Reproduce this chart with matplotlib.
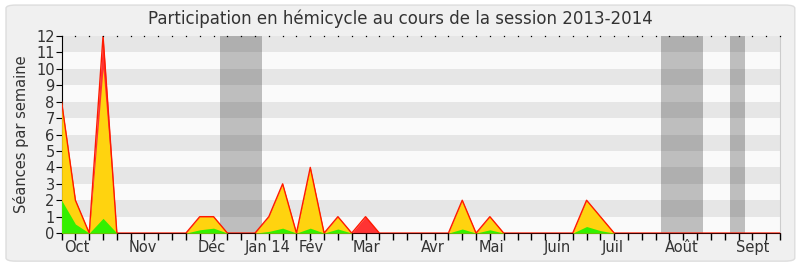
import numpy as np
import matplotlib
matplotlib.use('Agg')
import matplotlib.pyplot as plt
from matplotlib.patches import FancyBboxPatch

# weekly data, session 2013-2014 (53 weeks)
total = [8, 2, 0, 12, 0, 0, 0, 0, 0, 0, 1, 1, 0, 0, 0, 1, 3, 0, 4, 0,
         1, 0, 1, 0, 0, 0, 0, 0, 0, 2, 0, 1, 0, 0, 0, 0, 0, 0, 2, 1,
         0, 0, 0, 0, 0, 0, 0, 0, 0, 0, 0, 0, 0]
jaune = [8, 2, 0, 10, 0, 0, 0, 0, 0, 0, 1, 1, 0, 0, 0, 1, 3, 0, 4, 0,
         1, 0, 0, 0, 0, 0, 0, 0, 0, 2, 0, 1, 0, 0, 0, 0, 0, 0, 2, 1,
         0, 0, 0, 0, 0, 0, 0, 0, 0, 0, 0, 0, 0]
vert = [2, 0.55, 0, 0.9, 0, 0, 0, 0, 0, 0, 0.2, 0.3, 0, 0, 0, 0.1, 0.3, 0, 0.3, 0,
        0.25, 0, 0, 0, 0, 0, 0, 0, 0, 0.25, 0, 0.2, 0, 0, 0, 0, 0, 0, 0.4, 0.15,
        0, 0, 0, 0, 0, 0, 0, 0, 0, 0, 0, 0, 0]
vacances = [(11.45, 14.5), (43.4, 46.4), (48.4, 49.5)]
mois = ['Oct', 'Nov', 'Déc', 'Jan 14', 'Fév', 'Mar', 'Avr', 'Mai', 'Juin', 'Juil', 'Août', 'Sept']
mois_pos = [1.1, 5.9, 10.9, 14.9, 18.1, 22.1, 26.9, 31.1, 35.9, 39.9, 44.9, 50.03]

semaines = np.arange(len(total))
total = np.array(total, float)
jaune = np.array(jaune, float)
vert = np.array(vert, float)

fig = plt.figure(figsize=(8, 2.67), dpi=100)
fig.patch.set_facecolor('white')
fig.patches.append(FancyBboxPatch((0.0075, 0.022), 0.986, 0.959, boxstyle='round,pad=0,rounding_size=0.012',
                                  transform=fig.transFigure, facecolor='#f0f0f0',
                                  edgecolor='#dddddd', linewidth=1, zorder=-10))
ax = fig.add_axes([0.077, 0.127, 0.898, 0.738])
ax.set_facecolor('#fafafa')

for k in range(1, 12, 2):
    ax.axhspan(k, k + 1, color='#e6e6e6', lw=0, zorder=0)
for a, b in vacances:
    ax.axvspan(a, b, color='black', alpha=0.24, lw=0, zorder=1)

ax.fill_between(semaines, 0, total, color='#ff3333', lw=0, zorder=2)
ax.fill_between(semaines, 0, jaune, color='#ffd30f', lw=0, zorder=3)
ax.fill_between(semaines, 0, vert, color='#33f000', lw=0, zorder=4)
ax.plot(semaines, total, color='#ff1a00', lw=1, zorder=5)

ax.set_xlim(0, 52)
ax.set_ylim(0, 12)
ax.set_yticks(range(13))
ax.set_xticks(semaines)
ax.set_xticklabels([])
ax.set_xticks(mois_pos, minor=True)
ax.set_xticklabels(mois, minor=True)
ax.tick_params(axis='x', which='major', length=5, width=1, color='black',
               bottom=True, top=False, direction='out')
ax.tick_params(axis='x', which='minor', length=0, labelsize=10.5, labelcolor='#333333', pad=5)
ax.tick_params(axis='y', length=4, labelsize=10.5, labelcolor='#333333', pad=1)
ax.set_ylabel('Séances par semaine', fontsize=10.5, color='#333333', labelpad=5)

ax.spines['top'].set_visible(False)
ax.spines['right'].set_color('#cccccc')
ax.spines['left'].set_color('black')
ax.spines['bottom'].set_color('#400000')

# small dots on top
ax.plot(semaines, np.full(len(semaines), 12), ls='none', marker='s', ms=0.9, mew=0,
        color='black', clip_on=False, zorder=6)

fig.suptitle('Participation en hémicycle au cours de la session 2013-2014', fontsize=12,
             color='#333333', y=0.965)

fig.savefig('out.png', dpi=100)
